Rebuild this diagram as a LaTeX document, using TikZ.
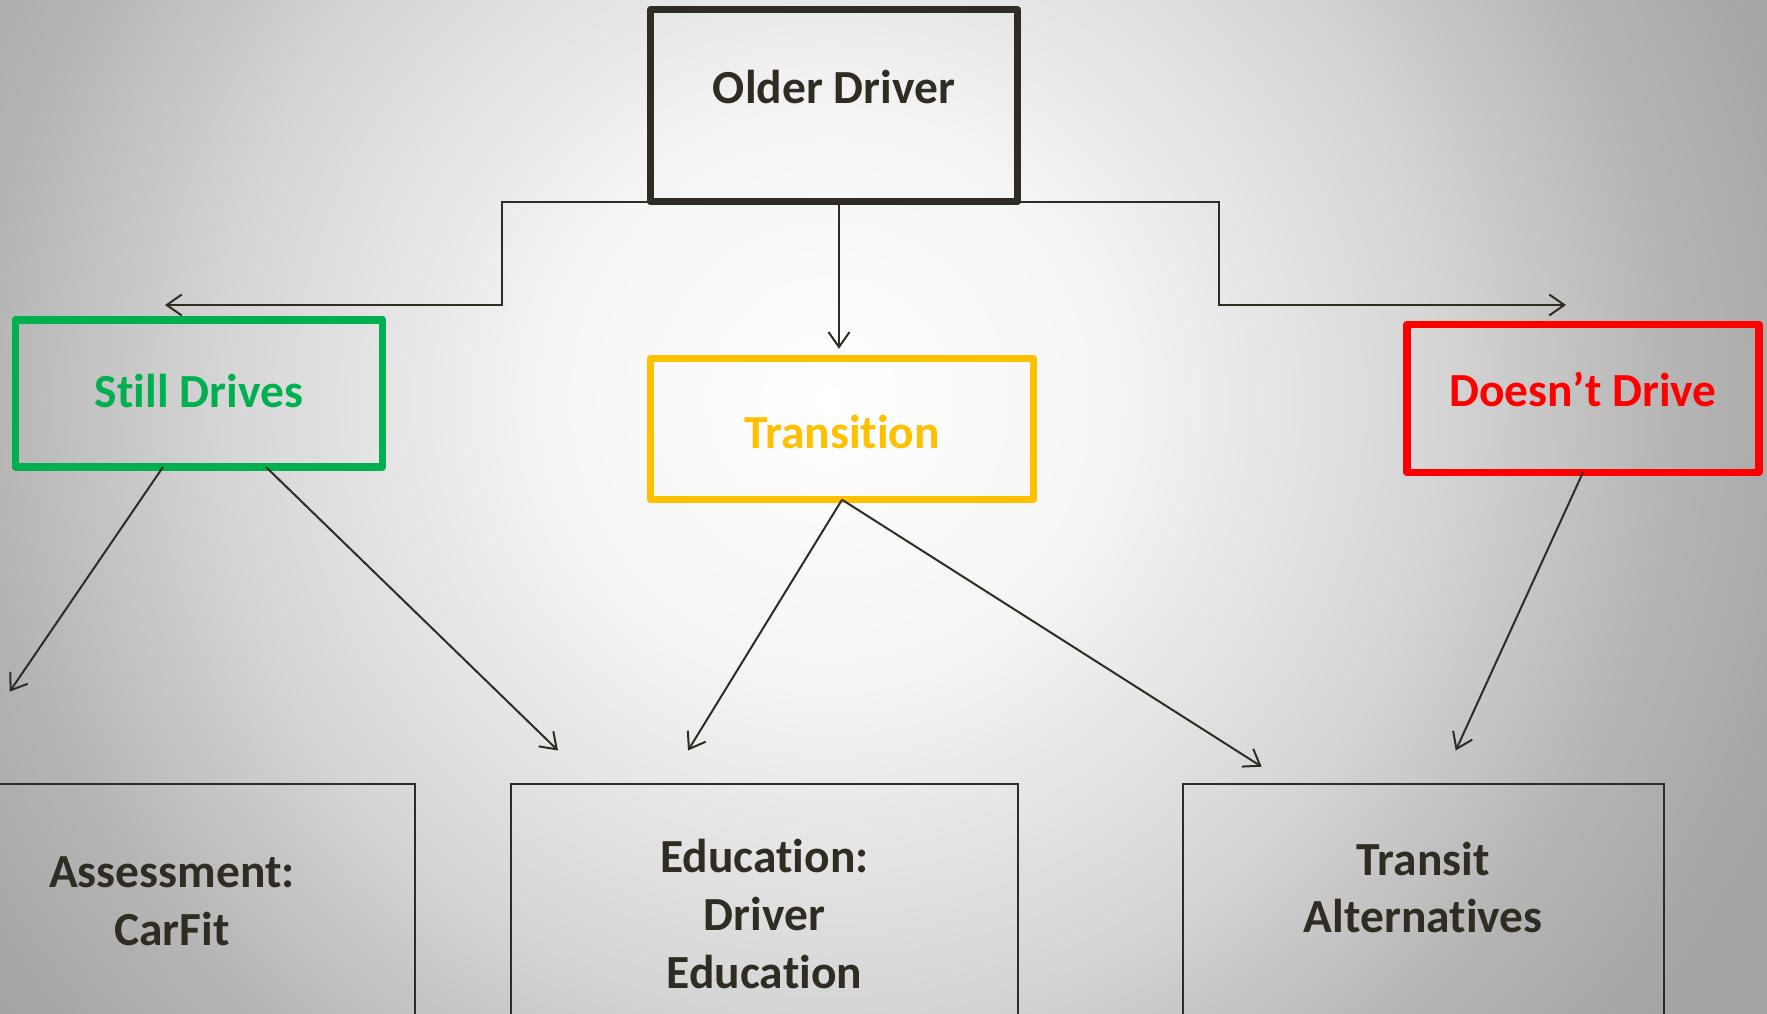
\documentclass[tikz,border=0pt]{standalone}
\usepackage{fontspec}
\setmainfont{Carlito}[Ligatures=NoCommon]
\usetikzlibrary{arrows.meta}

\definecolor{ink}{HTML}{302C22}
\definecolor{stillgreen}{HTML}{00B050}
\definecolor{transamber}{HTML}{FFC000}
\definecolor{stopred}{HTML}{FF0000}

% slide background, light in the middle
\pgfdeclareradialshading{slideglow}{\pgfpoint{0bp}{0bp}}{color(0bp)=(white); color(7bp)=(white!96!black); color(15bp)=(white!84!black); color(21bp)=(white!71!black); color(25bp)=(white!65!black); color(50bp)=(white!60!black)}

\begin{document}
\begin{tikzpicture}[x=1pt, y=-1pt,
    bigtext/.style={font=\bfseries\fontsize{47.5}{57.7}\selectfont},
    box/.style={bigtext, line width=7.3pt, line join=round, inner sep=0pt, outer sep=0pt, anchor=north},
    option/.style={bigtext, draw=ink, text=ink, line width=2.5pt, inner sep=0pt, outer sep=0pt, anchor=north, align=center, text depth=300pt},
    conn/.style={draw=ink, line width=2pt, -{Straight Barb[length=15pt,width=21pt]}}]
    \useasboundingbox (0,0) rectangle (1767,1014);

    \begin{scope}
    \clip (0,0) rectangle (1767,1014);
    % Background
    \shade[shading=slideglow] (-170,-600) rectangle (1830,1400);

    % Top of the tree
    \node[box, draw=ink, text=ink, minimum width=367pt, text height=93.5pt, text depth=98.5pt] (older) at (834,9.8) {Older Driver};

    % Three groups of drivers
    \node[box, draw=stillgreen, text=stillgreen, minimum width=367.5pt, text height=87pt, text depth=60pt] (still) at (199,320) {Still Drives};
    \node[box, draw=transamber, text=transamber, minimum width=383.4pt, text height=89.6pt, text depth=51.4pt] (trans) at (842,358.7) {Transition};
    \node[box, draw=stopred, text=stopred, minimum width=352pt, text height=82.3pt, text depth=65.6pt] (dont) at (1583,324.4) {Doesn’t Drive};

    % What each group gets
    \node[option, text width=486pt, text height=103.3pt] (assess) at (172,784) {Assessment:\\CarFit};
    \node[option, text width=507pt, text height=88.7pt] (edu) at (764.5,784) {Education:\\Driver\\Education};
    \node[option, text width=481pt, text height=91pt] (transit) at (1423.3,784) {Transit\\Alternatives};

    % Arrow ends
    \coordinate (stillin) at (165,305);
    \coordinate (dontin) at (1566,305);
    \coordinate (assessin) at (9.6,691.7);
    \coordinate (eduinL) at (558,750.5);
    \coordinate (eduinR) at (688,750.5);
    \coordinate (transitinL) at (1261.7,766.7);
    \coordinate (transitinR) at (1455.7,750.5);

    % Connectors
    \draw[conn] (older.south west) -- ++(-149,0) |- (stillin);
    \draw[conn] (older.south east) -- ++(201,0) |- (dontin);
    \draw[conn] ([xshift=5pt]older.south) -- ++(0,147);
    \draw[conn] ([xshift=-36pt]still.south) -- (assessin);
    \draw[conn] ([xshift=67pt]still.south) -- (eduinL);
    \draw[conn] (trans.south) -- (eduinR);
    \draw[conn] (trans.south) -- (transitinL);
    \draw[conn] (dont.south) -- (transitinR);
    \end{scope}
\end{tikzpicture}
\end{document}
